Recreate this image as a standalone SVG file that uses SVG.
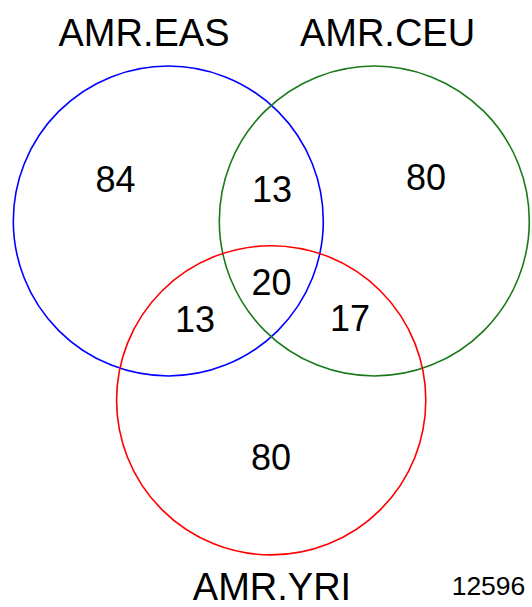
<svg xmlns="http://www.w3.org/2000/svg" width="532" height="607" viewBox="0 0 532 607">
<style>
.c{fill:none;stroke-width:1.6}
.t{font-family:"Liberation Sans",Arial,sans-serif;fill:#000;text-anchor:middle}
.lbl{font-size:38px}
.n{font-size:36px}
</style>
<rect width="532" height="607" fill="#fff"/>
<g id="set-eas">
<circle class="c" cx="168.3" cy="221" r="155" stroke="#0000ff"/>
<text class="t lbl" x="144" y="46">AMR.EAS</text>
</g>
<g id="set-ceu">
<circle class="c" cx="374.3" cy="221" r="155" stroke="#1a7a1a"/>
<text class="t lbl" x="387.5" y="46">AMR.CEU</text>
</g>
<g id="set-yri">
<circle class="c" cx="271.2" cy="400.3" r="154.6" stroke="#ff0000"/>
<text class="t lbl" x="272" y="600">AMR.YRI</text>
</g>
<g id="counts">
<text class="t n" x="115.5" y="192">84</text>
<text class="t n" x="272" y="202">13</text>
<text class="t n" x="426" y="190">80</text>
<text class="t n" x="271.5" y="295">20</text>
<text class="t n" x="195" y="332">13</text>
<text class="t n" x="350" y="331">17</text>
<text class="t n" x="271" y="470">80</text>
</g>
<g id="total">
<text class="t" style="font-size:26.5px" x="488.5" y="595">12596</text>
</g>
<g id="connectors"></g>
</svg>
